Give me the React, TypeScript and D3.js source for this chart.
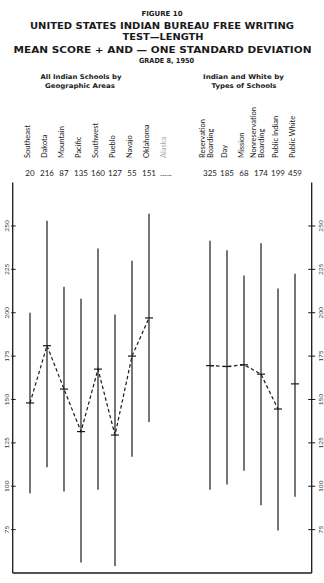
import React from "react";
import * as d3 from "d3";

// ---- Data ----
const geoAreas = ["Southeast", "Dakota", "Mountain", "Pacific", "Southwest", "Pueblo", "Navajo", "Oklahoma", "Alaska"];
const geoCounts = ["20", "216", "87", "135", "160", "127", "55", "151", "......"];
const geoMean = [148, 181, 156, 131.5, 167.5, 129.5, 175, 197, null];
const geoUpper = [200, 253, 215, 208, 237, 199, 230, 257, null];
const geoLower = [96, 111, 97, 56, 98, 54, 117, 137, null];

const schoolTypes = ["Reservation Boarding", "Day", "Mission", "Nonreservation Boarding", "Public Indian", "Public White"];
const schoolLabelLines = [["Reservation", "Boarding"], ["Day"], ["Mission"], ["Nonreservation", "Boarding"], ["Public Indian"], ["Public White"]];
const schoolCounts = ["325", "185", "68", "174", "199", "459"];
const schoolMean = [169.5, 169, 170, 164.6, 144.5, 159];
const schoolUpper = [241.5, 236, 221.5, 240, 214, 222.5];
const schoolLower = [98, 101, 109, 89, 74.5, 94];
const schoolConnected = [true, true, true, true, true, false];

const yTicks = [75, 100, 125, 150, 175, 200, 225, 250];

const W = 324;
const H = 583;

export default function App() {
  const y = d3.scaleLinear().domain([50, 275]).range([573, 182.6]);
  const xL = d3.scalePoint<string>().domain(geoAreas).range([30, 166]);
  const xR = d3.scalePoint<string>().domain(schoolTypes).range([210, 295]);
  const axL = 12.7;
  const axR = 311.7;
  const ink = "#1a1a1a";
  const labelFont = "Lato, 'DejaVu Sans', sans-serif";
  const titleFont = "'DejaVu Sans', sans-serif";

  const line = d3
    .line<[number, number]>()
    .x((d) => d[0])
    .y((d) => d[1]);

  const leftPts: [number, number][] = geoAreas
    .map((c, i) => (geoMean[i] == null ? null : ([xL(c)!, y(geoMean[i] as number)] as [number, number])))
    .filter((p): p is [number, number] => p !== null);
  const rightPts: [number, number][] = schoolTypes
    .map((c, i) => (schoolConnected[i] ? ([xR(c)!, y(schoolMean[i])] as [number, number]) : null))
    .filter((p): p is [number, number] => p !== null);

  return (
    <svg
      width={W}
      height={H}
      viewBox={`0 0 ${W} ${H}`}
      style={{ position: "absolute", left: 0, top: 0, background: "#fff" }}
    >
      {/* Titles */}
      <g fontFamily={titleFont} fontWeight="bold" fill={ink} textAnchor="middle">
        <text x={162} y={16} fontSize={7} textLength={41} lengthAdjust="spacingAndGlyphs">FIGURE 10</text>
        <text x={162} y={29} fontSize={9} textLength={264} lengthAdjust="spacingAndGlyphs">UNITED STATES INDIAN BUREAU FREE WRITING</text>
        <text x={163} y={39.8} fontSize={9} textLength={81} lengthAdjust="spacingAndGlyphs">TEST—LENGTH</text>
        <text x={162.5} y={53} fontSize={9.5} textLength={298} lengthAdjust="spacingAndGlyphs">MEAN SCORE + AND — ONE STANDARD DEVIATION</text>
        <text x={166.5} y={62.5} fontSize={7} textLength={55} lengthAdjust="spacingAndGlyphs">GRADE 8, 1950</text>
        <text x={81} y={79} fontSize={6.5} textLength={81} lengthAdjust="spacingAndGlyphs">All Indian Schools by</text>
        <text x={80} y={87.5} fontSize={6.5} textLength={70} lengthAdjust="spacingAndGlyphs">Geographic Areas</text>
        <text x={243.5} y={79} fontSize={6.5} textLength={81} lengthAdjust="spacingAndGlyphs">Indian and White by</text>
        <text x={244} y={87.5} fontSize={6.5} textLength={65} lengthAdjust="spacingAndGlyphs">Types of Schools</text>
      </g>

      {/* Category labels (rotated) */}
      <g fontFamily={labelFont} fontSize={7.5} fill="#222">
        {geoAreas.map((c) => (
          <text key={c} transform={`translate(${xL(c)! - 0.5},158) rotate(-90)`} fill={c === "Alaska" ? "#aaa" : "#222"}>
            {c}
          </text>
        ))}
        {schoolTypes.map((c, i) => {
          const lines = schoolLabelLines[i];
          return lines.map((t, j) => {
            const off = lines.length === 2 ? (j === 0 ? -5 : 2.5) : -0.5;
            return (
              <text key={c + j} transform={`translate(${xR(c)! + off},158) rotate(-90)`}>
                {t}
              </text>
            );
          });
        })}
      </g>

      {/* Counts */}
      <g fontFamily={labelFont} fontSize={8} fill="#222" textAnchor="middle">
        {geoAreas.map((c, i) => (
          <text key={c} x={xL(c)!} y={176}>
            {geoCounts[i]}
          </text>
        ))}
        {schoolTypes.map((c, i) => (
          <text key={c} x={xR(c)!} y={176}>
            {schoolCounts[i]}
          </text>
        ))}
      </g>

      {/* Axes */}
      <g stroke={ink} strokeWidth={1.3} fill="none">
        <line x1={axL} x2={axL} y1={y(275)} y2={y(50)} />
        <line x1={axR} x2={axR} y1={y(275)} y2={y(50)} />
        <line x1={axL} x2={axR} y1={y(50)} y2={y(50)} />
        {yTicks.map((t) => (
          <g key={t}>
            <line x1={axL - 1.5} x2={axL + 3} y1={y(t)} y2={y(t)} strokeWidth={1} />
            <line x1={axR - 3.5} x2={axR + 3.5} y1={y(t)} y2={y(t)} strokeWidth={1} />
          </g>
        ))}
      </g>
      <g fontFamily={labelFont} fontSize={6.5} fill="#333" textAnchor="middle">
        {yTicks.map((t) => (
          <g key={t}>
            <text transform={`translate(8.6,${y(t)}) rotate(-90)`}>{t}</text>
            <text transform={`translate(322.6,${y(t)}) rotate(-90)`}>{t}</text>
          </g>
        ))}
      </g>

      {/* Range lines (mean ± 1 SD) */}
      <g stroke={ink} strokeWidth={1.2}>
        {geoAreas.map((c, i) =>
          geoMean[i] == null ? null : (
            <g key={c}>
              <line x1={xL(c)!} x2={xL(c)!} y1={y(geoUpper[i] as number)} y2={y(geoLower[i] as number)} />
              <line x1={xL(c)! - 4} x2={xL(c)! + 4} y1={y(geoMean[i] as number)} y2={y(geoMean[i] as number)} />
            </g>
          )
        )}
        {schoolTypes.map((c, i) => (
          <g key={c}>
            <line x1={xR(c)!} x2={xR(c)!} y1={y(schoolUpper[i])} y2={y(schoolLower[i])} />
            <line x1={xR(c)! - 4} x2={xR(c)! + 4} y1={y(schoolMean[i])} y2={y(schoolMean[i])} />
          </g>
        ))}
      </g>

      {/* Dashed mean lines */}
      <g stroke={ink} strokeWidth={1.2} fill="none" strokeDasharray="3.5,2.5">
        <path d={line(leftPts) || ""} />
        <path d={line(rightPts) || ""} />
      </g>
    </svg>
  );
}
